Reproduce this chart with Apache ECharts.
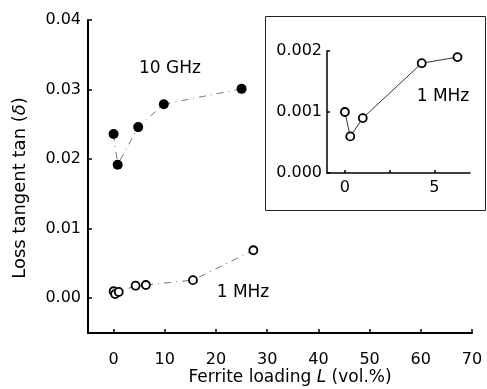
<!DOCTYPE html>
<html>
<head>
<meta charset="utf-8">
<script src="https://cdn.jsdelivr.net/npm/echarts@6/dist/echarts.min.js"></script>
<style>html,body{margin:0;padding:0;background:#fff}#c{width:487px;height:389px}</style>
</head>
<body>
<div id="c"></div>
<script>
// Data
const ghzX = [0, 0.8, 4.8, 9.8, 25];
const ghzY = [0.0236, 0.0192, 0.0246, 0.0279, 0.0301];
const mhzX = [0, 0.3, 1.0, 4.3, 6.3, 15.5, 27.3];
const mhzY = [0.0010, 0.0006, 0.0009, 0.0018, 0.0019, 0.0026, 0.0069];
const insetX = [0, 0.3, 1.0, 4.3, 6.3];
const insetY = [0.0010, 0.0006, 0.0009, 0.0018, 0.0019];
const mainYTicks = [0, 0.01, 0.02, 0.03, 0.04];
const mainXTicks = [0, 10, 20, 30, 40, 50, 60, 70];
const insetYTicks = [0, 0.001, 0.002];
const insetXTicks = [0, 5];
const insetXMinor = [0, 2.5, 5];

const FONT = 'DejaVu Sans';
const pair = (xs, ys) => xs.map((x, i) => [x, ys[i]]);

const chart = echarts.init(document.getElementById('c'), null, {renderer: 'canvas'});
const axisTxt = {fontFamily: FONT, fontSize: 16, color: '#000'};

chart.setOption({
  animation: false,
  backgroundColor: '#fff',
  grid: [
    {left: 88, right: 15, top: 20, bottom: 56},
    {left: 327, right: 17, top: 51, bottom: 216}
  ],
  xAxis: [
    {
      gridIndex: 0, type: 'value', min: -5, max: 70,
      axisLine: {onZero: false, lineStyle: {color: '#000', width: 2}},
      axisTick: {inside: true, length: 4, customValues: mainXTicks, lineStyle: {color: '#000', width: 1.5}},
      axisLabel: Object.assign({margin: 19, customValues: mainXTicks}, axisTxt),
      splitLine: {show: false}
    },
    {
      gridIndex: 1, type: 'value', min: -1, max: 7,
      axisLine: {onZero: false, lineStyle: {color: '#000', width: 1.5}},
      axisTick: {inside: true, length: 3, customValues: insetXMinor, lineStyle: {color: '#000', width: 1.5}},
      axisLabel: Object.assign({margin: 7, customValues: insetXTicks}, axisTxt),
      splitLine: {show: false}
    }
  ],
  yAxis: [
    {
      gridIndex: 0, type: 'value', min: -0.005, max: 0.04,
      axisLine: {show: true, onZero: false, lineStyle: {color: '#000', width: 2}},
      axisTick: {show: true, inside: true, length: 4, customValues: mainYTicks, lineStyle: {color: '#000', width: 1.5}},
      axisLabel: Object.assign({margin: 7, customValues: mainYTicks, formatter: v => v.toFixed(2)}, axisTxt),
      splitLine: {show: false}
    },
    {
      gridIndex: 1, type: 'value', min: 0, max: 0.002,
      axisLine: {show: true, onZero: false, lineStyle: {color: '#000', width: 1.5}},
      axisTick: {show: true, inside: true, length: 3, customValues: insetYTicks, lineStyle: {color: '#000', width: 1.5}},
      axisLabel: Object.assign({margin: 5, customValues: insetYTicks, formatter: v => v.toFixed(3)}, axisTxt),
      splitLine: {show: false}
    }
  ],
  series: [
    {
      name: '10 GHz', type: 'line', xAxisIndex: 0, yAxisIndex: 0,
      data: pair(ghzX, ghzY),
      symbol: 'circle', symbolSize: 10,
      itemStyle: {color: '#000'},
      lineStyle: {color: '#777', width: 1, type: [7, 5, 1, 5]},
      z: 3
    },
    {
      name: '1 MHz', type: 'line', xAxisIndex: 0, yAxisIndex: 0,
      data: pair(mhzX, mhzY),
      symbol: 'circle', symbolSize: 8,
      itemStyle: {color: '#fff', borderColor: '#000', borderWidth: 1.8},
      lineStyle: {color: '#777', width: 1, type: [7, 5, 1, 5]},
      z: 3
    },
    {
      name: '1 MHz inset', type: 'line', xAxisIndex: 1, yAxisIndex: 1,
      data: pair(insetX, insetY),
      symbol: 'circle', symbolSize: 8,
      itemStyle: {color: '#fff', borderColor: '#000', borderWidth: 1.8},
      lineStyle: {color: '#000', width: 0.8},
      z: 3
    }
  ],
  graphic: [
    {type: 'rect', shape: {x: 265.5, y: 16.5, width: 220, height: 194}, style: {fill: null, stroke: '#222', lineWidth: 1}, z: 1},
    {type: 'text', x: 170, y: 69, style: {text: '10 GHz', font: '17px "DejaVu Sans"', fill: '#000', align: 'center', verticalAlign: 'middle'}},
    {type: 'text', x: 243, y: 293, style: {text: '1 MHz', font: '17px "DejaVu Sans"', fill: '#000', align: 'center', verticalAlign: 'middle'}},
    {type: 'text', x: 443, y: 97, style: {text: '1 MHz', font: '17px "DejaVu Sans"', fill: '#000', align: 'center', verticalAlign: 'middle'}},
    {type: 'text', x: 290, y: 378, style: {
      text: 'Ferrite loading {i|L} (vol.%)', font: '17px "DejaVu Sans"', fill: '#000', align: 'center', verticalAlign: 'middle',
      rich: {i: {fontStyle: 'italic', fontFamily: FONT, fontSize: 17, fill: '#000'}}
    }},
    {type: 'text', x: 20, y: 188, rotation: Math.PI / 2, style: {
      text: 'Loss tangent tan ({i|δ})', font: '18px "DejaVu Sans"', fill: '#000', align: 'center', verticalAlign: 'middle',
      rich: {i: {fontStyle: 'italic', fontFamily: FONT, fontSize: 18, fill: '#000'}}
    }}
  ]
});
</script>
</body>
</html>
